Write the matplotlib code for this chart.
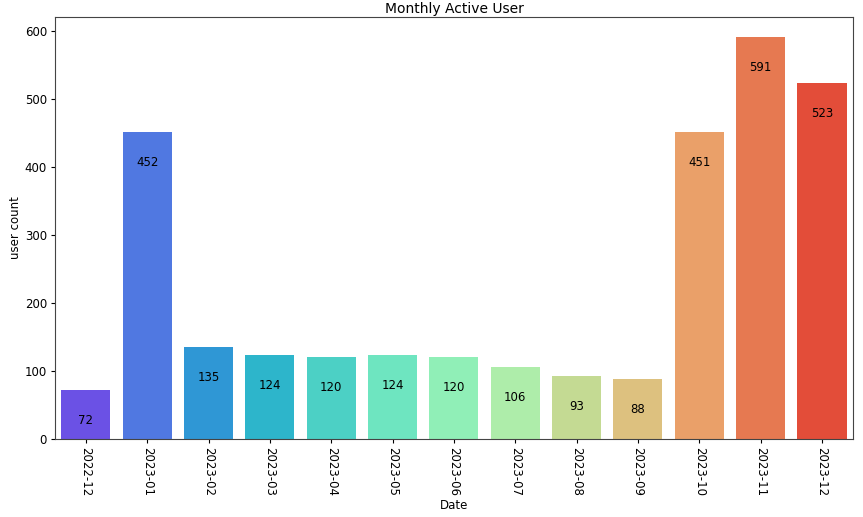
import matplotlib
matplotlib.use("Agg")
import matplotlib.pyplot as plt
import seaborn as sns
import pandas as pd

dates = ["2022-12", "2023-01", "2023-02", "2023-03", "2023-04", "2023-05", "2023-06",
         "2023-07", "2023-08", "2023-09", "2023-10", "2023-11", "2023-12"]
counts = [72, 452, 135, 124, 120, 124, 120, 106, 93, 88, 451, 591, 523]

df = pd.DataFrame({"Date": dates, "user count": counts})

s = 0.85
plt.rcParams.update({
    "font.size": 10 * s,
    "axes.titlesize": 10,
    "axes.linewidth": 0.8,
    "axes.edgecolor": "#444444",
    "xtick.major.size": 3.5 * s,
    "ytick.major.size": 3.5 * s,
    "xtick.major.pad": 3.5 * s,
    "ytick.major.pad": 3.5 * s,
    "axes.titlepad": 3,
    "axes.labelpad": 2,
})

fig, ax = plt.subplots(figsize=(8.63, 5.17), dpi=100)
sns.barplot(data=df, x="Date", y="user count", hue="Date", palette="rainbow", legend=False, ax=ax)
for i, v in enumerate(counts):
    ax.text(i, v - 50, str(v), ha="center", va="baseline", fontsize=10 * s)
ax.set_title("Monthly Active User")
ax.set_xlabel("Date")
ax.set_ylabel("user count")
plt.xticks(rotation=-90)
fig.subplots_adjust(left=0.064, right=0.988, top=0.967, bottom=0.151)
fig.savefig("out.png", dpi=100)
